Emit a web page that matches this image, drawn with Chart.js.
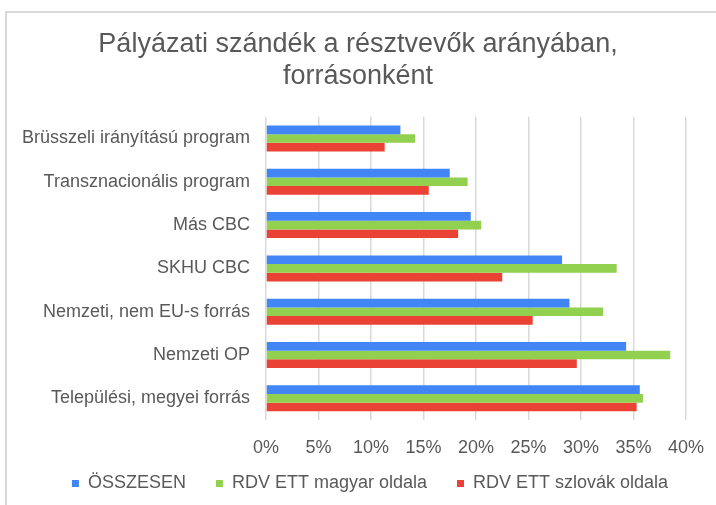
<!DOCTYPE html>
<html lang="hu">
<head>
<meta charset="utf-8">
<title>Pályázati szándék</title>
<script src="https://cdn.jsdelivr.net/npm/chart.js@4.4.1/dist/chart.umd.min.js"></script>
<style>
  html, body { margin: 0; padding: 0; background: #fff; overflow: hidden; }
  #wrap { position: relative; width: 716px; height: 505px; }
  #frame { position: absolute; left: 5px; top: 11px; width: 800px; height: 600px; border: 2px solid #d9d9d9; }
  #chart { position: absolute; left: 0; top: 0; }
</style>
</head>
<body>
<div id="wrap">
  <div id="frame"></div>
  <canvas id="chart" width="716" height="505"></canvas>
</div>
<script>
'use strict';
// ---------------------- Data -----------------
const categories = [
  'Brüsszeli irányítású program',
  'Transznacionális program',
  'Más CBC',
  'SKHU CBC',
  'Nemzeti, nem EU-s forrás',
  'Nemzeti OP',
  'Települési, megyei forrás'
];
const seriesNames = ['ÖSSZESEN', 'RDV ETT magyar oldala', 'RDV ETT szlovák oldala'];
const osszesen = [12.8, 17.5, 19.5, 28.2, 28.9, 34.3, 35.6];
const magyarOldal = [14.2, 19.2, 20.5, 33.4, 32.1, 38.5, 35.9];
const szlovakOldal = [11.3, 15.5, 18.3, 22.5, 25.4, 29.6, 35.3];
const tickStep = 5;
const tickMax = 40;

// ---------------------- Styles -----------------
const fontFamily = '"Liberation Sans", Arial, sans-serif';
const textColor = '#595959';
const seriesColors = ['#4285f4', '#92d050', '#ea4335'];

Chart.defaults.font.family = fontFamily;
Chart.defaults.color = textColor;

function makeDataset(label, data, color) {
  return {
    label: label,
    data: data,
    backgroundColor: color,
    borderWidth: 0,
    categoryPercentage: 0.6,
    barPercentage: 1.0
  };
}

// x labels hang below the (short) axis box, legend sits a bit right of centre
const layoutTweaks = {
  id: 'layoutTweaks',
  afterLayout(chart) {
    chart.scales.x.bottom += 25;
    chart.legend.left += 24;
  }
};

const context = document.getElementById('chart').getContext('2d');
const sourceChart = new Chart(context, {
  type: 'bar',
  data: {
    labels: categories,
    datasets: [
      makeDataset(seriesNames[0], osszesen, seriesColors[0]),
      makeDataset(seriesNames[1], magyarOldal, seriesColors[1]),
      makeDataset(seriesNames[2], szlovakOldal, seriesColors[2])
    ]
  },
  options: {
    indexAxis: 'y',
    responsive: false,
    animation: false,
    layout: { padding: { top: 0, left: 0, right: 0, bottom: 2.5 } },
    scales: {
      x: {
        min: 0,
        max: tickMax,
        ticks: {
          stepSize: tickStep,
          padding: 17,
          font: { size: 18 },
          color: textColor,
          callback: (v) => v + '%'
        },
        grid: { color: '#d9d9d9', lineWidth: 1.5, drawTicks: false },
        border: { display: false },
        afterFit(scale) {
          scale.height = 24.5;
          scale.paddingRight = 30;
        }
      },
      y: {
        ticks: { padding: 16, font: { size: 18 }, color: textColor },
        grid: { display: false, drawTicks: false },
        border: { display: false },
        afterFit(scale) {
          scale.width = 266;
        }
      }
    },
    plugins: {
      title: {
        display: true,
        text: ['Pályázati szándék a résztvevők arányában,', 'forrásonként'],
        color: textColor,
        font: { size: 27, weight: 'normal' },
        padding: { top: 28, bottom: 24 }
      },
      legend: {
        position: 'bottom',
        labels: {
          boxWidth: 7,
          boxHeight: 7,
          padding: 30,
          color: textColor,
          font: { size: 18 }
        }
      },
      tooltip: { enabled: false }
    }
  },
  plugins: [layoutTweaks]
});
</script>
</body>
</html>
